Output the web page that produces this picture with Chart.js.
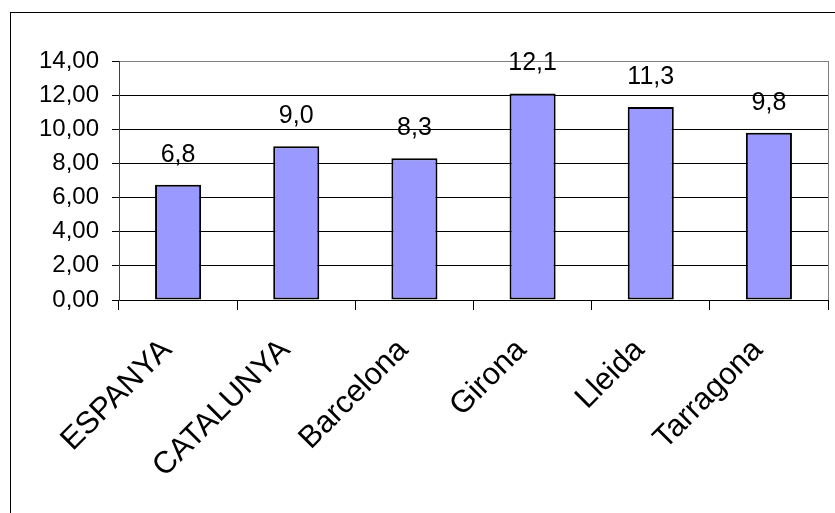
<!DOCTYPE html>
<html>
<head>
<meta charset="utf-8">
<script src="https://cdn.jsdelivr.net/npm/chart.js@4/dist/chart.umd.min.js"></script>
<style>
  html, body { margin: 0; padding: 0; background: #fff; }
  #wrap { width: 835px; height: 513px; }
</style>
</head>
<body>
<div id="wrap"><canvas id="c" width="835" height="513"></canvas></div>
<script>
"use strict";
const categories = ['ESPANYA', 'CATALUNYA', 'Barcelona', 'Girona', 'Lleida', 'Tarragona'];
const values = [6.75, 9.0, 8.3, 12.1, 11.3, 9.8];
const valueLabels = ['6,8', '9,0', '8,3', '12,1', '11,3', '9,8'];
const yTicks = [0, 2, 4, 6, 8, 10, 12, 14];

const FONT = 'Liberation Sans, Arial, sans-serif';

// outer frame, right plot border and value labels
const extras = {
    id: 'extras',
    beforeDraw(chart) {
        const ctx = chart.ctx;
        ctx.save();
        ctx.fillStyle = '#fff';
        ctx.fillRect(0, 0, chart.width, chart.height);
        ctx.strokeStyle = '#000';
        ctx.lineWidth = 1;
        ctx.strokeRect(10.5, 12.5, chart.width, chart.height);
        ctx.restore();
    },
    afterDraw(chart) {
        const ctx = chart.ctx;
        const a = chart.chartArea;
        ctx.save();
        ctx.strokeStyle = '#808080';
        ctx.lineWidth = 1;
        ctx.beginPath();
        ctx.moveTo(Math.round(a.right) + 0.5, a.top);
        ctx.lineTo(Math.round(a.right) + 0.5, a.bottom);
        ctx.stroke();
        ctx.fillStyle = '#000';
        ctx.font = '25px ' + FONT;
        ctx.textAlign = 'center';
        ctx.textBaseline = 'alphabetic';
        const meta = chart.getDatasetMeta(0);
        meta.data.forEach((bar, i) => {
            ctx.fillText(valueLabels[i], bar.x, bar.y - 23);
        });
        ctx.restore();
    }
};

new Chart(document.getElementById('c'), {
    type: 'bar',
    data: {
        labels: categories,
        datasets: [{
            data: values,
            backgroundColor: '#9999FF',
            borderColor: '#000',
            borderWidth: 2,
            borderSkipped: false,
            categoryPercentage: 1,
            barPercentage: 0.39
        }]
    },
    options: {
        responsive: false,
        animation: false,
        devicePixelRatio: 1,
        layout: { padding: { left: 0, top: 61, right: 7, bottom: 0 } },
        plugins: { legend: { display: false }, tooltip: { enabled: false } },
        scales: {
            x: {
                offset: true,
                afterFit(scale) { scale.height = 213; },
                grid: {
                    offset: true,
                    drawOnChartArea: false,
                    drawTicks: true,
                    tickLength: 10,
                    color: '#000',
                    tickColor: '#000'
                },
                border: { color: '#000', width: 1 },
                ticks: {
                    minRotation: 45,
                    maxRotation: 45,
                    padding: 22,
                    labelOffset: -11,
                    color: '#000',
                    font: { family: FONT, size: 31 }
                }
            },
            y: {
                min: 0,
                max: 14,
                afterFit(scale) { scale.width = 119; },
                afterBuildTicks(scale) { scale.ticks = yTicks.map(v => ({ value: v })); },
                grid: {
                    color: (c) => (c.tick && c.tick.value === 14) ? '#808080' : '#000',
                    tickColor: '#000',
                    tickLength: 7
                },
                border: { color: '#404040', width: 1 },
                ticks: {
                    padding: 13,
                    color: '#000',
                    font: { family: FONT, size: 24 },
                    callback: (v) => Number(v).toFixed(2).replace('.', ',')
                }
            }
        }
    },
    plugins: [extras]
});
</script>
</body>
</html>
